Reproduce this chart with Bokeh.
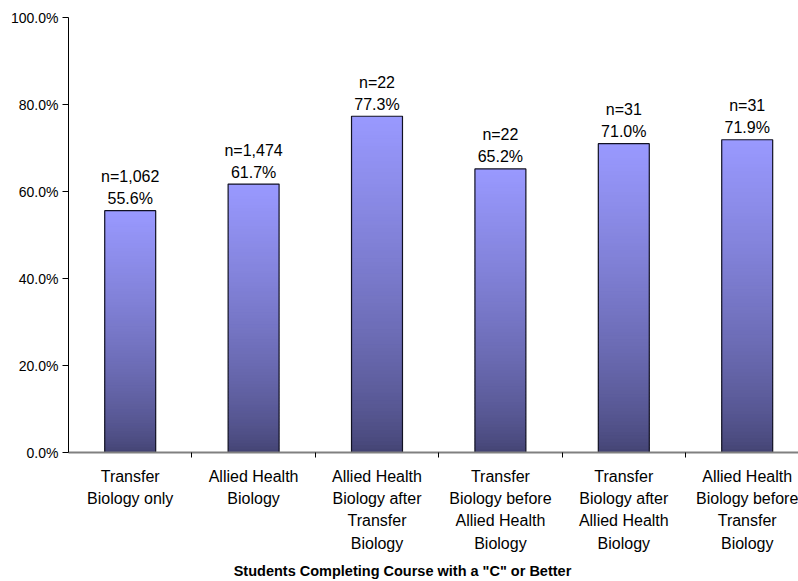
import numpy as np
from bokeh.plotting import figure
from bokeh.models import (Range1d, FixedTicker, PrintfTickFormatter, LinearAxis)
from bokeh.embed import file_html
from bokeh.resources import INLINE
from bokeh.core.properties import value

# ---------------- data ----------------
categories = [
    ["Transfer", "Biology only"],
    ["Allied Health", "Biology"],
    ["Allied Health", "Biology after", "Transfer", "Biology"],
    ["Transfer", "Biology before", "Allied Health", "Biology"],
    ["Transfer", "Biology after", "Allied Health", "Biology"],
    ["Allied Health", "Biology before", "Transfer", "Biology"],
]
pct_values = [55.6, 61.7, 77.3, 65.2, 71.0, 71.9]
n_labels = ["n=1,062", "n=1,474", "n=22", "n=22", "n=31", "n=31"]
y_ticks = [0, 20, 40, 60, 80, 100]
x_title = 'Students Completing Course with a "C" or Better'

# ---------------- layout constants ----------------
W, H = 798, 581
LEFT, RIGHT, TOP, BOTTOM = 68, 0, 17, 128
CAT_PX = 123.4          # pixel width of one category slot
BAR_W = 0.413
FONT = "Liberation Sans"
TITLE_CENTER_PX = 402 - LEFT

frame_w = W - LEFT - RIGHT
frame_h = H - TOP - BOTTOM

p = figure(width=W, height=H, output_backend="svg", toolbar_location=None,
           x_range=Range1d(-0.5, -0.5 + frame_w / CAT_PX),
           y_range=Range1d(0, 100),
           min_border_left=LEFT, min_border_right=RIGHT,
           min_border_top=TOP, min_border_bottom=BOTTOM)
p.outline_line_color = None
p.grid.visible = False
p.background_fill_color = "white"
p.border_fill_color = "white"

# ---------------- gradient bars ----------------
bottom_rgb = np.array([66, 66, 112])
top_rgb = np.array([153, 153, 255])
N = 90
lefts, rights, bots, tops, cols = [], [], [], [], []
for i, v in enumerate(pct_values):
    for k in range(N):
        f = (k + 0.5) / N
        t = f ** 0.7
        c = bottom_rgb + (top_rgb - bottom_rgb) * t
        lefts.append(i - BAR_W / 2)
        rights.append(i + BAR_W / 2)
        bots.append(v * k / N)
        tops.append(min(v, v * (k + 1.6) / N))
        cols.append("#%02x%02x%02x" % tuple(int(round(x)) for x in c))
p.quad(left=lefts, right=rights, bottom=bots, top=tops,
       fill_color=cols, line_color=None)

idx = list(range(len(pct_values)))
p.quad(left=[i - BAR_W / 2 for i in idx], right=[i + BAR_W / 2 for i in idx],
       bottom=0, top=pct_values, fill_color=None,
       line_color="#111122", line_width=1.2)

# ---------------- value labels ----------------
pct_text = ["%.1f%%" % v for v in pct_values]
p.text(x=idx, y=pct_values, text=pct_text, text_align="center",
       text_baseline="alphabetic", y_offset=-12,
       text_font=value(FONT), text_font_size="16px", text_color="black")
p.text(x=idx, y=pct_values, text=n_labels, text_align="center",
       text_baseline="alphabetic", y_offset=-34,
       text_font=value(FONT), text_font_size="16px", text_color="black")

# ---------------- y axis ----------------
yax = p.yaxis[0]
yax.ticker = FixedTicker(ticks=y_ticks)
yax.formatter = PrintfTickFormatter(format="%.1f%%")
yax.major_tick_out = 6
yax.major_tick_in = 0
yax.minor_tick_out = 0
yax.minor_tick_in = 0
yax.axis_line_color = "black"
yax.major_tick_line_color = "black"
yax.major_label_text_font = FONT
yax.major_label_text_font_size = "14px"
yax.major_label_text_color = "black"
yax.major_label_standoff = 4

# ---------------- x axis (categories) ----------------
xax = p.xaxis[0]
xax.ticker = FixedTicker(ticks=idx, minor_ticks=[i + 0.5 for i in idx])
xax.major_label_overrides = {i: "\n".join(lines) for i, lines in enumerate(categories)}
xax.major_label_text_font = FONT
xax.major_label_text_font_size = "16px"
xax.major_label_text_color = "black"
xax.major_label_text_line_height = 1.32
xax.major_label_standoff = 10
xax.axis_line_color = "#808080"
xax.axis_line_width = 2
xax.minor_tick_out = 5
xax.minor_tick_in = 0
xax.minor_tick_line_color = "black"
xax.major_tick_out = 0
xax.major_tick_in = 0

# ---------------- x title as an extra axis ----------------
p.extra_x_ranges = {"title": Range1d(0, frame_w)}
tax = LinearAxis(x_range_name="title",
                 ticker=FixedTicker(ticks=[TITLE_CENTER_PX]),
                 major_label_overrides={TITLE_CENTER_PX: x_title},
                 axis_line_color=None, major_tick_line_color=None,
                 minor_tick_line_color=None,
                 major_tick_out=0, major_tick_in=0,
                 major_label_standoff=8,
                 major_label_text_font=FONT,
                 major_label_text_font_size="14.5px",
                 major_label_text_font_style="bold",
                 major_label_text_color="black")
p.add_layout(tax, "below")

open("out.html", "w").write(file_html(p, INLINE))
